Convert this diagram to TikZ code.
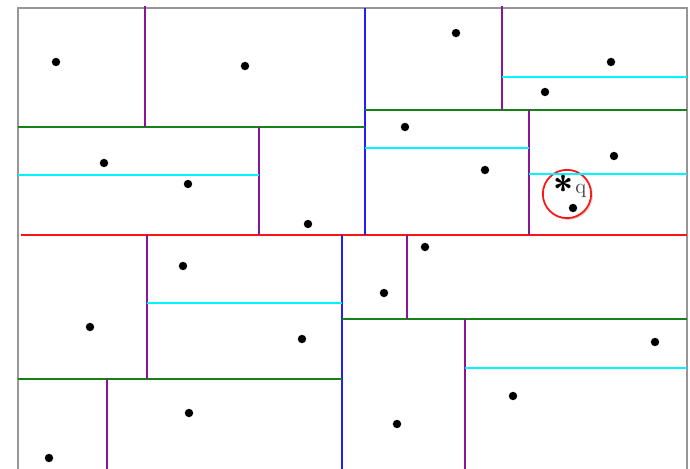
\documentclass[tikz,border=0pt]{standalone}
\usetikzlibrary{shadows,positioning}
\definecolor{frame}{RGB}{150,150,150}
\definecolor{lvlred}{RGB}{255,20,20}
\definecolor{lvlblue}{RGB}{30,30,255}
\definecolor{lvlgreen}{RGB}{20,130,20}
\definecolor{lvlpurple}{RGB}{140,20,150}
\definecolor{lvlcyan}{RGB}{0,245,255}
\begin{document}
\begin{tikzpicture}[
    x=0.02cm, y=-0.02cm,
    border/.style={draw=frame, line width=1.3pt},
    cut1/.style={draw=lvlred, line width=1.2pt},
    cut2/.style={draw=lvlblue, line width=1.2pt},
    cut3/.style={draw=lvlgreen, line width=1.2pt},
    cut4/.style={draw=lvlpurple, line width=1.2pt},
    cut5/.style={draw=lvlcyan, line width=1.2pt},
    pt/.style={circle, fill=black, inner sep=0pt, minimum size=4.8pt},
    query/.style={circle, draw=lvlred, line width=1pt, fill=white, minimum size=27.5pt, inner sep=0pt,
        drop shadow={opacity=0.3, shadow xshift=1pt, shadow yshift=-1pt}}
]
    \useasboundingbox (0,0) rectangle (690,469);

    % Cercle de la requete (sous les coupes)
    \node[query] (qc) at (567,194) {};

    % Cadre
    \draw[border] (18,469) -- (18,8) -- (687,8) -- (687,469);

    % Niveau 1: coupe horizontale rouge
    \draw[cut1] (21,235) -- (687,235);

    % Niveau 2: coupes verticales bleues
    \draw[cut2] (365,8) -- (365,235);
    \draw[cut2] (342,235) -- (342,469);

    % Niveau 3: coupes horizontales vertes
    \draw[cut3] (18,127) -- (365,127);
    \draw[cut3] (365,110) -- (687,110);
    \draw[cut3] (18,379) -- (342,379);
    \draw[cut3] (342,319) -- (687,319);

    % Niveau 4: coupes verticales violettes
    \draw[cut4] (145,6) -- (145,127);
    \draw[cut4] (259,127) -- (259,235);
    \draw[cut4] (502,6) -- (502,110);
    \draw[cut4] (529,110) -- (529,235);
    \draw[cut4] (147,235) -- (147,379);
    \draw[cut4] (107,379) -- (107,469);
    \draw[cut4] (407,235) -- (407,319);
    \draw[cut4] (465,319) -- (465,469);

    % Niveau 5: coupes horizontales cyan
    \draw[cut5] (18,175) -- (259,175);
    \draw[cut5] (502,77) -- (687,77);
    \draw[cut5] (365,148) -- (529,148);
    \draw[cut5] (529,174) -- (687,174);
    \draw[cut5] (147,303) -- (342,303);
    \draw[cut5] (465,368) -- (687,368);

    % Points
    \node[pt] (p1) at (56,62) {};
    \node[pt] (p2) at (245,66) {};
    \node[pt] (p3) at (456,33) {};
    \node[pt] (p4) at (611,62) {};
    \node[pt] (p5) at (545,92) {};
    \node[pt] (p6) at (405,127) {};
    \node[pt] (p7) at (104,163) {};
    \node[pt] (p8) at (188,184) {};
    \node[pt] (p9) at (485,170) {};
    \node[pt] (p10) at (614,156) {};
    \node[pt] (p11) at (573,208) {};
    \node[pt] (p12) at (308,224) {};
    \node[pt] (p13) at (425,247) {};
    \node[pt] (p14) at (183,266) {};
    \node[pt] (p15) at (384,293) {};
    \node[pt] (p16) at (90,327) {};
    \node[pt] (p17) at (302,339) {};
    \node[pt] (p18) at (655,342) {};
    \node[pt] (p19) at (513,396) {};
    \node[pt] (p20) at (189,413) {};
    \node[pt] (p21) at (397,424) {};
    \node[pt] (p22) at (49,458) {};

    % Requete q
    \node[inner sep=0pt] (star) at (564,189) {\huge\bfseries\sffamily *};
    \node[inner sep=0pt, text=black!75, right=0.3pt of star, yshift=-1pt] (qlab) {\large q};

\end{tikzpicture}
\end{document}
